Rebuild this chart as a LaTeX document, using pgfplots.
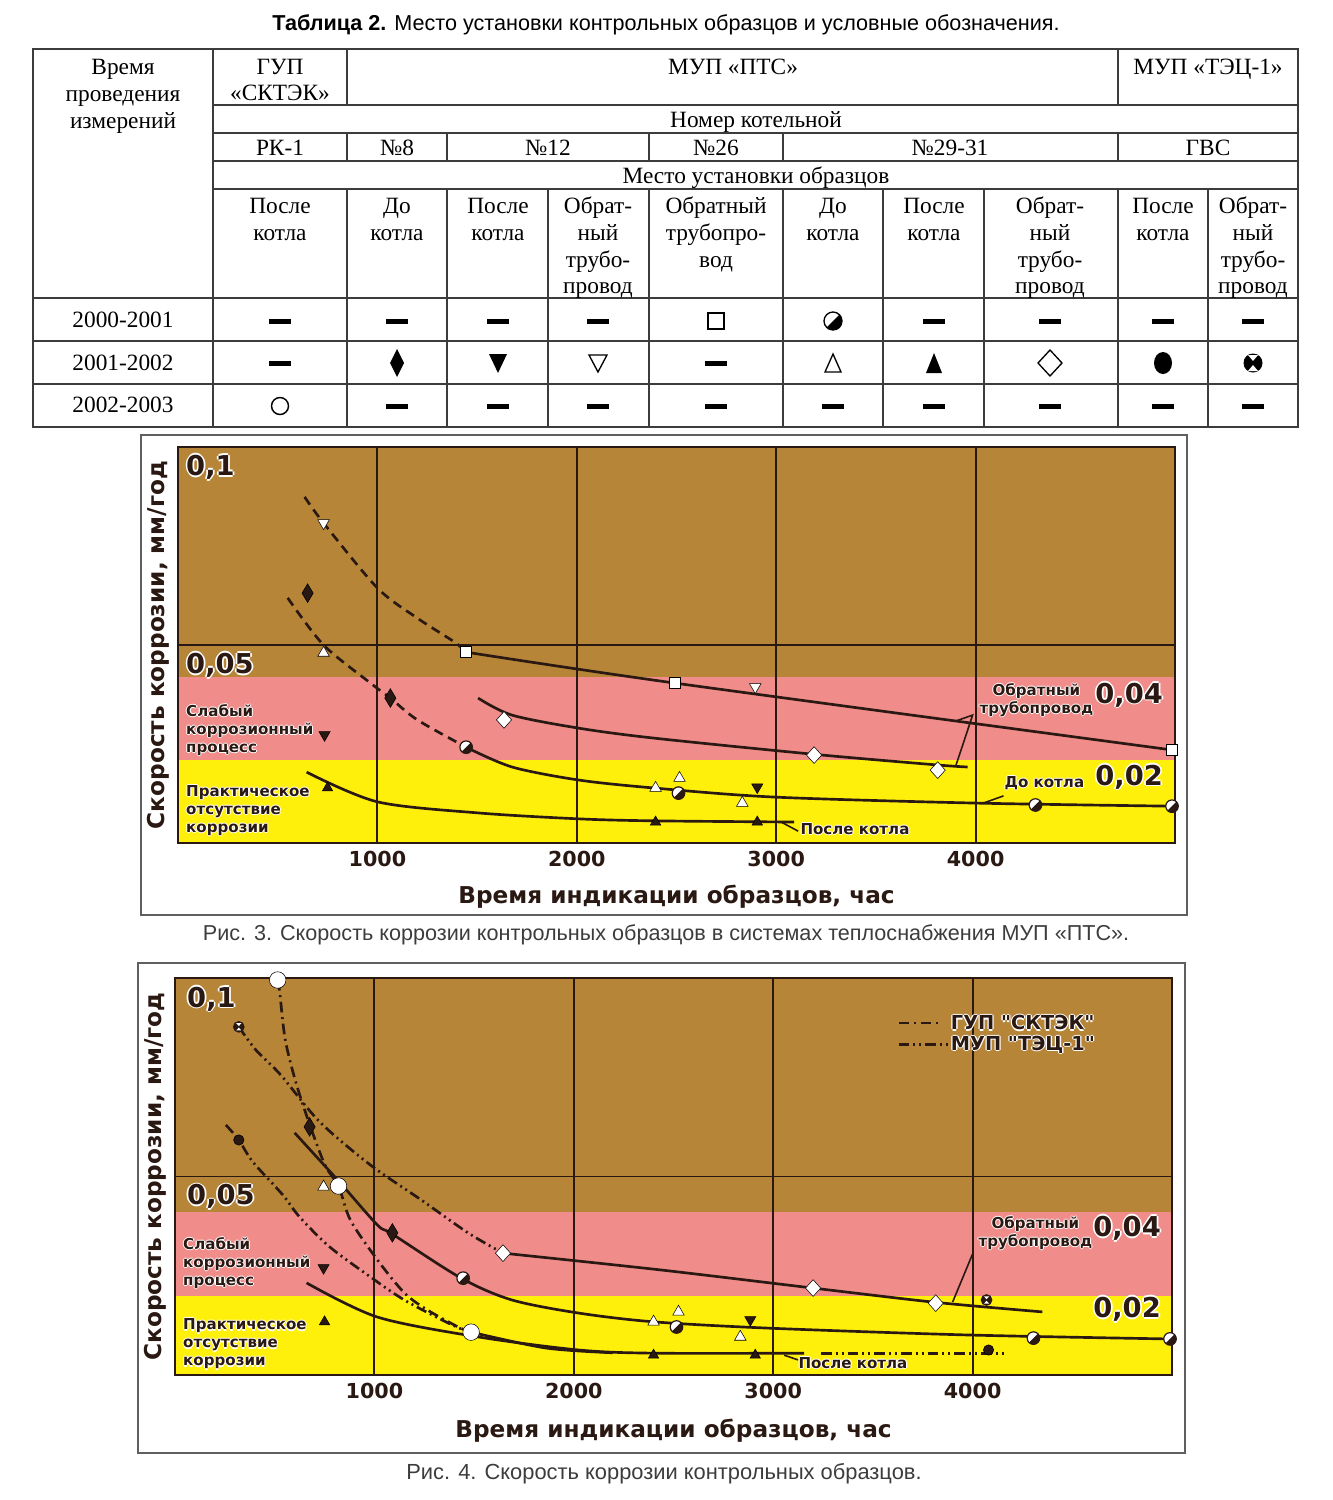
\documentclass[border=0pt]{standalone}
\usepackage{fontspec}
\setmainfont{Liberation Serif}
\setsansfont{Liberation Sans}
\newfontfamily\chartfont{DejaVu Sans}
\usepackage{pgfplots}
\pgfplotsset{compat=1.18}

\definecolor{dark}{RGB}{42,24,18}
\definecolor{bgbrown}{RGB}{182,133,56}
\definecolor{bgpink}{RGB}{240,140,138}
\definecolor{bgyellow}{RGB}{255,240,12}
\definecolor{frameg}{RGB}{95,95,95}
\definecolor{tabline}{RGB}{60,60,60}
\definecolor{capgray}{RGB}{60,60,60}

\pgfdeclareplotmark{halfcirc}{%
  \pgfpathcircle{\pgfpointorigin}{\pgfplotmarksize}%
  \pgfsetfillcolor{white}%
  \pgfusepathqfillstroke
  \pgfpathmoveto{\pgfpointpolar{45}{\pgfplotmarksize}}%
  \pgfpatharc{45}{-135}{\pgfplotmarksize}%
  \pgfpathclose
  \pgfsetfillcolor{dark}%
  \pgfusepathqfill
}
\pgfdeclareplotmark{hglass}{%
  \pgfpathcircle{\pgfpointorigin}{\pgfplotmarksize}%
  \pgfsetfillcolor{dark}%
  \pgfusepathqfillstroke
  \pgfpathmoveto{\pgfpoint{0pt}{0.15\pgfplotmarksize}}%
  \pgfpathlineto{\pgfpoint{-0.5\pgfplotmarksize}{0.7\pgfplotmarksize}}%
  \pgfpathlineto{\pgfpoint{0.5\pgfplotmarksize}{0.7\pgfplotmarksize}}%
  \pgfpathclose
  \pgfpathmoveto{\pgfpoint{0pt}{-0.15\pgfplotmarksize}}%
  \pgfpathlineto{\pgfpoint{-0.5\pgfplotmarksize}{-0.7\pgfplotmarksize}}%
  \pgfpathlineto{\pgfpoint{0.5\pgfplotmarksize}{-0.7\pgfplotmarksize}}%
  \pgfpathclose
  \pgfsetfillcolor{white}%
  \pgfusepathqfill
}

\newcommand{\tabf}{\rmfamily\fontsize{17.5}{20}\selectfont}
\newcommand{\tickf}{\chartfont\bfseries\fontsize{15.5}{18}\selectfont}
\newcommand{\labf}{\chartfont\bfseries\fontsize{17.4}{20}\selectfont}
\newcommand{\legf}{\chartfont\bfseries\fontsize{14.5}{17}\selectfont}
\newcommand{\bigf}{\chartfont\bfseries\fontsize{20.5}{24}\selectfont}
\newcommand{\smf}{\chartfont\bfseries\fontsize{11.3}{13.5}\selectfont}
\newcommand{\tc}[3]{\node[anchor=base,inner sep=0pt,font=\tabf] at (#1,#2) {#3};}
\newcommand{\tdash}[2]{\fill[black] (#1-11,#2-2.5) rectangle (#1+11,#2+2.5);}
\newcommand{\lab}[5][1.3]{%
 \node[#2,text=white,xshift=#1pt] at (axis cs:#3,#4) {#5};
 \node[#2,text=white,xshift=-#1pt] at (axis cs:#3,#4) {#5};
 \node[#2,text=white,yshift=#1pt] at (axis cs:#3,#4) {#5};
 \node[#2,text=white,yshift=-#1pt] at (axis cs:#3,#4) {#5};
 \node[#2,text=dark] at (axis cs:#3,#4) {#5};}

\pgfplotsset{
 chartax/.style={scale only axis, width=747.75pt, height=297pt,
   xmin=0, xmax=5000, ymin=0, ymax=0.1,
   xtick={1000,2000,3000,4000}, xticklabels={1000,2000,3000,4000},
   ytick={0.05}, yticklabels={},
   xmajorgrids, ymajorgrids, grid style={dark, line width=1.4pt},
   major tick length=0pt, axis line style={dark, line width=1.6pt},
   clip=false, set layers, axis on top=false,
   xticklabel style={font=\tickf, text=dark, inner sep=6pt},
   xlabel style={font=\labf, text=dark, anchor=center},
   ylabel style={font=\labf, text=dark, anchor=center},
   xlabel={Время индикации образцов, час},
   ylabel={Скорость коррозии, мм/год}},
 curve/.style={dark, line width=2pt, smooth, no markers},
 dcurve/.style={curve, dash pattern=on 7pt off 4.5pt},
 gupline/.style={curve, dash pattern=on 8pt off 3.5pt on 1.5pt off 3.5pt},
 tecline/.style={curve, dash pattern=on 8pt off 3pt on 1.5pt off 3pt on 1.5pt off 3pt},
 pts/.style={only marks, mark options={draw=dark, line width=0.9pt}},
}

\begin{document}
\begin{tikzpicture}
\begin{scope}[x=0.75pt,y=-0.75pt]
 \node[anchor=base, inner sep=0pt, font=\sffamily\fontsize{16.2}{18}\selectfont] at (666,30) {\textbf{Таблица 2.} Место установки контрольных образцов и условные обозначения.};
 % table grid
 \begin{scope}[line width=1.1pt, draw=tabline]
  \draw[line width=1.4pt] (33,49) rectangle (1298,427);
  \draw (213,105) -- (1298,105);
  \draw (213,133) -- (1298,133);
  \draw (213,161) -- (1298,161);
  \draw (213,189) -- (1298,189);
  \draw (33,298) -- (1298,298);
  \draw (33,341) -- (1298,341);
  \draw (33,384) -- (1298,384);
  \draw (213,49) -- (213,427);
  \draw (347,49) -- (347,105) (347,133) -- (347,161) (347,189) -- (347,427);
  \draw (1118,49) -- (1118,105) (1118,133) -- (1118,161) (1118,189) -- (1118,427);
  \draw (447,133) -- (447,161) (447,189) -- (447,427);
  \draw (649,133) -- (649,161) (649,189) -- (649,427);
  \draw (783,133) -- (783,161) (783,189) -- (783,427);
  \draw (548,189) -- (548,427);
  \draw (883,189) -- (883,427);
  \draw (984,189) -- (984,427);
  \draw (1208,189) -- (1208,427);
 \end{scope}
 % table text
 \tc{123}{74}{Время}\tc{123}{101}{проведения}\tc{123}{128}{измерений}
 \tc{280}{74}{ГУП}\tc{280}{100}{«СКТЭК»}
 \tc{733}{74}{МУП «ПТС»}
 \tc{1208}{74}{МУП «ТЭЦ-1»}
 \tc{756}{127}{Номер котельной}
 \tc{280}{155}{РК-1}\tc{397}{155}{№8}\tc{548}{155}{№12}\tc{716}{155}{№26}\tc{950}{155}{№29-31}\tc{1208}{155}{ГВС}
 \tc{756}{183}{Место установки образцов}
 \tc{280}{213}{После}\tc{280}{240}{котла}
 \tc{397}{213}{До}\tc{397}{240}{котла}
 \tc{498}{213}{После}\tc{498}{240}{котла}
 \tc{598}{213}{Обрат-}\tc{598}{240}{ный}\tc{598}{267}{трубо-}\tc{598}{293}{провод}
 \tc{716}{213}{Обратный}\tc{716}{240}{трубопро-}\tc{716}{267}{вод}
 \tc{833}{213}{До}\tc{833}{240}{котла}
 \tc{934}{213}{После}\tc{934}{240}{котла}
 \tc{1050}{213}{Обрат-}\tc{1050}{240}{ный}\tc{1050}{267}{трубо-}\tc{1050}{293}{провод}
 \tc{1163}{213}{После}\tc{1163}{240}{котла}
 \tc{1253}{213}{Обрат-}\tc{1253}{240}{ный}\tc{1253}{267}{трубо-}\tc{1253}{293}{провод}
 \tc{123}{327}{2000-2001}\tc{123}{370}{2001-2002}\tc{123}{412}{2002-2003}
 % table symbols row 1
 \tdash{280}{321}\tdash{397}{321}\tdash{498}{321}\tdash{598}{321}
 \draw[line width=1.1pt] (708,313) rectangle (724,329);
 \draw[line width=1pt, fill=white] (833,321) circle[radius=9];
 \fill[black] (833,321) ++(-45:9) arc[start angle=-45, end angle=135, radius=9] -- cycle;
 \tdash{934}{321}\tdash{1050}{321}\tdash{1163}{321}\tdash{1253}{321}
 % row 2
 \tdash{280}{363}
 \fill[black] (397,349) -- (404,363) -- (397,377) -- (390,363) -- cycle;
 \fill[black] (489,354) -- (507,354) -- (498,373) -- cycle;
 \draw[line width=1pt] (589,355) -- (607,355) -- (598,372) -- cycle;
 \tdash{716}{363}
 \draw[line width=1pt] (825,372) -- (841,372) -- (833,354) -- cycle;
 \fill[black] (926,373) -- (942,373) -- (934,353) -- cycle;
 \draw[line width=1pt] (1050,350) -- (1062,363) -- (1050,376) -- (1038,363) -- cycle;
 \fill[black] (1163,363) ellipse[x radius=9, y radius=11];
 \fill[black] (1253,363) circle[radius=9.5];
 \fill[white] (1253,361) -- (1248,355) -- (1258,355) -- cycle;
 \fill[white] (1253,365) -- (1248,371) -- (1258,371) -- cycle;
 % row 3
 \draw[line width=1.1pt] (280,406) circle[radius=8.5];
 \tdash{397}{406}\tdash{498}{406}\tdash{598}{406}\tdash{716}{406}\tdash{833}{406}\tdash{934}{406}\tdash{1050}{406}\tdash{1163}{406}\tdash{1253}{406}
 % chart frames and captions
 \draw[frameg, line width=1.3pt] (141,435) rectangle (1187,915);
 \draw[frameg, line width=1.3pt] (138,963) rectangle (1185,1453);
 \node[anchor=base, inner sep=0pt, text=capgray, font=\sffamily\fontsize{16.2}{18}\selectfont] at (666,940) {Рис. 3. Скорость коррозии контрольных образцов в системах теплоснабжения МУП «ПТС».};
 \node[anchor=base, inner sep=0pt, text=capgray, font=\sffamily\fontsize{16.4}{18}\selectfont] at (664,1479) {Рис. 4. Скорость коррозии контрольных образцов.};
\end{scope}

% ---------------- Chart 1 ----------------
\begin{axis}[chartax, at={(133.5pt,-632.25pt)}, anchor=south west,
  xlabel style={at={(axis description cs:0.5,-0.136)}},
  ylabel style={at={(axis description cs:-0.02,0.5)}}]
\begin{pgfonlayer}{axis background}
 \fill[bgbrown] (axis cs:0,0.042) rectangle (axis cs:5000,0.1);
 \fill[bgpink] (axis cs:0,0.021) rectangle (axis cs:5000,0.042);
 \fill[bgyellow] (axis cs:0,0) rectangle (axis cs:5000,0.021);
\end{pgfonlayer}
% curves
\addplot[dcurve] coordinates {(635,0.0874) (730,0.0808) (1000,0.0644) (1200,0.0568) (1385,0.0508) (1445,0.0482)};
\addplot[curve] coordinates {(1445,0.0482) (2490,0.0404) (4985,0.0235)};
\addplot[dcurve] coordinates {(550,0.0619) (730,0.0500) (965,0.0404) (1065,0.0366) (1200,0.0311) (1445,0.0242)};
\addplot[curve] coordinates {(1445,0.0242) (1675,0.0192) (2010,0.0159) (2385,0.0139) (2990,0.0116) (3985,0.0101) (4985,0.0093)};
\addplot[curve] coordinates {(1505,0.0366) (1675,0.0323) (2010,0.0290) (2385,0.0265) (3190,0.0224) (3810,0.0197) (3960,0.0192)};
\addplot[curve] coordinates {(645,0.0179) (1000,0.0104) (1505,0.0076) (2010,0.0061) (2385,0.0056) (3090,0.0053)};
% markers
\addplot[pts, mark=triangle*, mark size=5pt, mark options={fill=white, rotate=180}] coordinates {(730,0.0808) (2895,0.0394)};
\addplot[pts, mark=diamond*, mark size=7pt, mark options={fill=dark, xscale=0.8}] coordinates {(650,0.0631) (1065,0.0366)};
\addplot[pts, mark=triangle*, mark size=5pt, mark options={fill=white}] coordinates {(730,0.0480) (2395,0.0139) (2515,0.0164) (2830,0.0101)};
\addplot[pts, mark=square*, mark size=4.2pt, mark options={fill=white}] coordinates {(1445,0.0482) (2490,0.0404) (4985,0.0235)};
\addplot[pts, mark=diamond*, mark size=6.3pt, mark options={fill=white, xscale=1.2}] coordinates {(1635,0.0311) (3190,0.0222) (3810,0.0184)};
\addplot[pts, mark=halfcirc, mark size=4.7pt] coordinates {(1445,0.0242) (2510,0.0126) (4300,0.0096) (4985,0.0093)};
\addplot[pts, mark=triangle*, mark size=4.8pt, mark options={fill=dark, rotate=180}] coordinates {(735,0.0273) (2905,0.0141)};
\addplot[pts, mark=triangle*, mark size=4.5pt, mark options={fill=dark}] coordinates {(750,0.0139) (2395,0.0053) (2905,0.0053)};
% leaders
\draw[dark, line width=1.2pt] (axis cs:3900,0.0308) -- (axis cs:3985,0.0323) -- (axis cs:3900,0.0194);
\draw[dark, line width=1.2pt] (axis cs:4040,0.0101) -- (axis cs:4140,0.0119);
\draw[dark, line width=1.2pt] (axis cs:3025,0.0053) -- (axis cs:3110,0.0030);
% labels
\lab{anchor=west, inner sep=0pt, font=\bigf}{40}{0.0949}{0,1}
\lab{anchor=west, inner sep=0pt, font=\bigf}{40}{0.0449}{0,05}
\lab{anchor=east, inner sep=0pt, font=\bigf}{4940}{0.0374}{0,04}
\lab{anchor=east, inner sep=0pt, font=\bigf}{4940}{0.0167}{0,02}
\lab[0.8]{anchor=west, inner sep=0pt, align=left, font=\smf}{40}{0.0285}{Слабый\\коррозионный\\процесс}
\lab[0.8]{anchor=west, inner sep=0pt, align=left, font=\smf}{40}{0.0081}{Практическое\\отсутствие\\коррозии}
\lab[0.8]{anchor=center, inner sep=0pt, align=center, font=\smf}{4305}{0.0361}{Обратный\\трубопровод}
\lab[0.8]{anchor=center, inner sep=0pt, font=\smf}{4345}{0.0152}{До котла}
\lab[0.8]{anchor=center, inner sep=0pt, font=\smf}{3395}{0.0035}{После котла}
\end{axis}

% ---------------- Chart 2 ----------------
\begin{axis}[chartax, height=297.75pt, at={(131.25pt,-1031.25pt)}, anchor=south west,
  xlabel style={at={(axis description cs:0.5,-0.141)}},
  ylabel style={at={(axis description cs:-0.02,0.5)}}]
\begin{pgfonlayer}{axis background}
 \fill[bgbrown] (axis cs:0,0.041) rectangle (axis cs:5000,0.1);
 \fill[bgpink] (axis cs:0,0.020) rectangle (axis cs:5000,0.041);
 \fill[bgyellow] (axis cs:0,0) rectangle (axis cs:5000,0.020);
\end{pgfonlayer}
% curves
\addplot[curve] coordinates {(600,0.0610) (825,0.0486) (1015,0.0378) (1090,0.0355) (1435,0.0244) (1690,0.0189) (2025,0.0156) (2400,0.0134) (2980,0.0118) (3965,0.0101) (4965,0.0091)};
\addplot[curve] coordinates {(1645,0.0307) (2430,0.0265) (3200,0.0219) (3815,0.0183) (4350,0.0159)};
\addplot[curve] coordinates {(660,0.0232) (1015,0.0146) (1520,0.0096) (2025,0.0063) (2400,0.0055) (3155,0.0055)};
\addplot[gupline] coordinates {(515,0.0995) (525,0.0965) (555,0.0839) (625,0.0706) (745,0.0537) (820,0.0476) (880,0.0390) (1015,0.0290) (1150,0.0207) (1265,0.0164) (1420,0.0121) (1485,0.0108)};
\addplot[curve] coordinates {(1485,0.0108) (1860,0.0068) (2195,0.0056)};
\addplot[tecline] coordinates {(320,0.0877) (405,0.0819) (530,0.0756) (725,0.0638) (980,0.0529) (1235,0.0441) (1470,0.0358) (1645,0.0307)};
\addplot[tecline] coordinates {(255,0.0630) (320,0.0592) (390,0.0537) (540,0.0454) (625,0.0398) (775,0.0323) (980,0.0247) (1150,0.0189) (1370,0.0131) (1520,0.0098)};
\addplot[tecline, sharp plot] coordinates {(3240,0.0054) (4170,0.0054)};
% markers
\addplot[pts, mark=*, mark size=6.2pt, mark options={fill=white}] coordinates {(515,0.0995) (820,0.0476) (1485,0.0108)};
\addplot[pts, mark=hglass, mark size=3.9pt] coordinates {(320,0.0877) (4070,0.0189)};
\addplot[pts, mark=*, mark size=3.9pt, mark options={fill=dark}] coordinates {(320,0.0592) (4080,0.0063)};
\addplot[pts, mark=diamond*, mark size=7pt, mark options={fill=dark, xscale=0.8}] coordinates {(675,0.0625) (1090,0.0358)};
\addplot[pts, mark=triangle*, mark size=5pt, mark options={fill=white}] coordinates {(745,0.0474) (2400,0.0134) (2525,0.0159) (2835,0.0096)};
\addplot[pts, mark=halfcirc, mark size=4.7pt] coordinates {(1445,0.0244) (2515,0.0121) (4305,0.0093) (4990,0.0091)};
\addplot[pts, mark=diamond*, mark size=6.3pt, mark options={fill=white, xscale=1.2}] coordinates {(1645,0.0307) (3200,0.0219) (3815,0.0181)};
\addplot[pts, mark=triangle*, mark size=4.8pt, mark options={fill=dark, rotate=180}] coordinates {(745,0.0270) (2885,0.0139)};
\addplot[pts, mark=triangle*, mark size=4.5pt, mark options={fill=dark}] coordinates {(750,0.0134) (2400,0.0050) (2910,0.0050)};
% leaders
\draw[dark, line width=1.2pt] (axis cs:4000,0.0305) -- (axis cs:3900,0.0184);
\draw[dark, line width=1.2pt] (axis cs:3055,0.0050) -- (axis cs:3125,0.0038);
% legend
\draw[dark, line width=2pt, dash pattern=on 8pt off 3.5pt on 1.5pt off 3.5pt] (axis cs:3630,0.0887) -- (axis cs:3830,0.0887);
\draw[dark, line width=2pt, dash pattern=on 8pt off 3pt on 1.5pt off 3pt on 1.5pt off 3pt] (axis cs:3630,0.0832) -- (axis cs:3880,0.0832);
\lab[1]{anchor=west, inner sep=0pt, font=\legf}{3890}{0.0887}{ГУП "СКТЭК"}
\lab[1]{anchor=west, inner sep=0pt, font=\legf}{3890}{0.0832}{МУП "ТЭЦ-1"}
% labels
\lab{anchor=west, inner sep=0pt, font=\bigf}{60}{0.0947}{0,1}
\lab{anchor=west, inner sep=0pt, font=\bigf}{60}{0.0449}{0,05}
\lab{anchor=east, inner sep=0pt, font=\bigf}{4945}{0.0370}{0,04}
\lab{anchor=east, inner sep=0pt, font=\bigf}{4945}{0.0166}{0,02}
\lab[0.8]{anchor=west, inner sep=0pt, align=left, font=\smf}{40}{0.0282}{Слабый\\коррозионный\\процесс}
\lab[0.8]{anchor=west, inner sep=0pt, align=left, font=\smf}{40}{0.0078}{Практическое\\отсутствие\\коррозии}
\lab[0.8]{anchor=center, inner sep=0pt, align=center, font=\smf}{4315}{0.0358}{Обратный\\трубопровод}
\lab[0.8]{anchor=center, inner sep=0pt, font=\smf}{3400}{0.0030}{После котла}
\end{axis}
\path (0,0) rectangle (999.75pt,-1125pt);
\end{tikzpicture}
\end{document}
